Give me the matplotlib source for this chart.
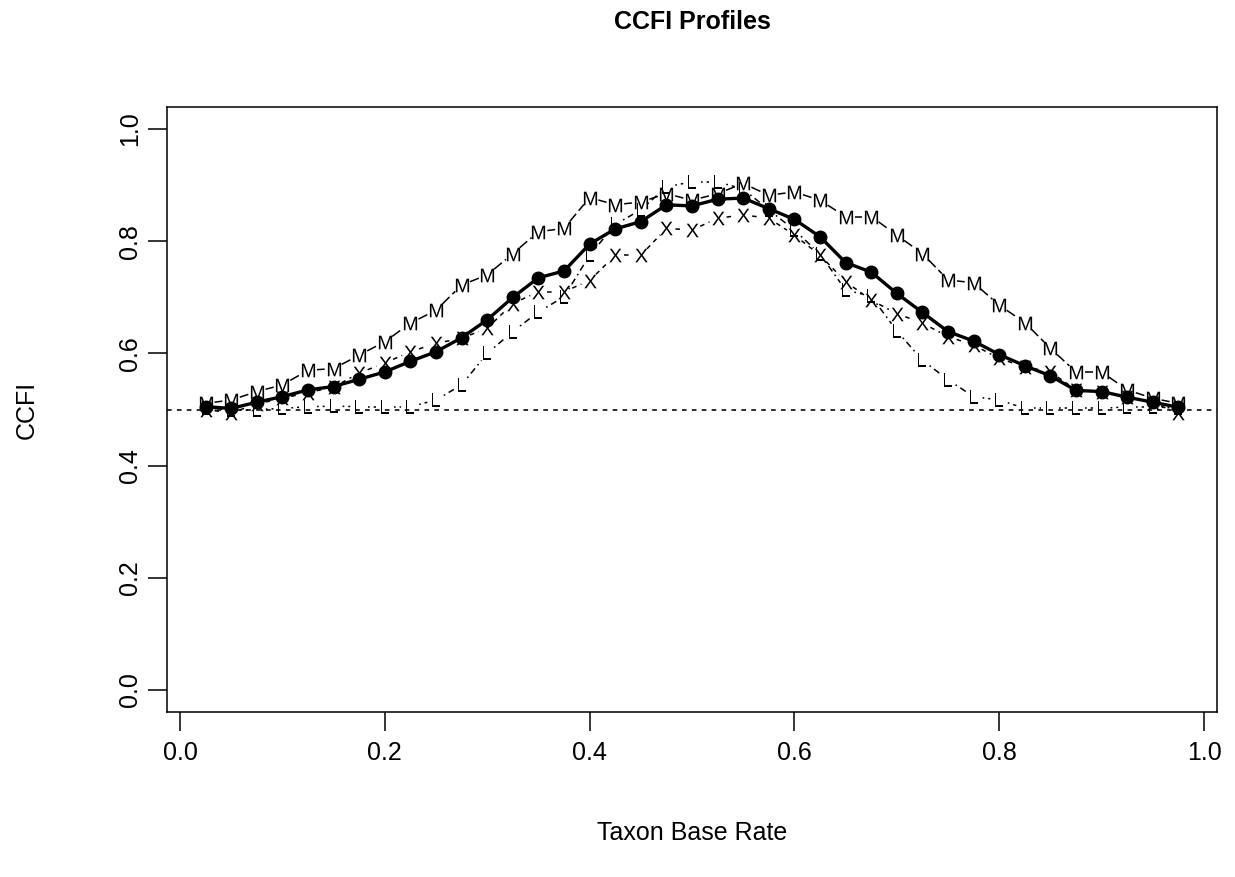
import numpy as np
import matplotlib
matplotlib.use("Agg")
import matplotlib.pyplot as plt

plt.rcParams['font.family'] = ['Liberation Sans', 'DejaVu Sans']
plt.rcParams['mathtext.fontset'] = 'custom'
plt.rcParams['mathtext.sf'] = 'Liberation Sans'

# taxon base rates on the x axis
base_rate = [0.025, 0.050, 0.075, 0.100, 0.125, 0.150, 0.175, 0.200, 0.225, 0.250,
             0.275, 0.300, 0.325, 0.350, 0.375, 0.400, 0.425, 0.450, 0.475, 0.500,
             0.525, 0.550, 0.575, 0.600, 0.625, 0.650, 0.675, 0.700, 0.725, 0.750,
             0.775, 0.800, 0.825, 0.850, 0.875, 0.900, 0.925, 0.950, 0.975]

# mean profile (thick line with dots)
ccfi_mean = [0.505, 0.502, 0.513, 0.523, 0.535, 0.541, 0.554, 0.567, 0.586, 0.603,
             0.628, 0.660, 0.700, 0.735, 0.747, 0.795, 0.822, 0.835, 0.865, 0.863,
             0.875, 0.877, 0.858, 0.839, 0.808, 0.762, 0.745, 0.707, 0.673, 0.639,
             0.622, 0.598, 0.578, 0.560, 0.534, 0.532, 0.522, 0.513, 0.504]

# profiles drawn with letters
ccfi_m = [0.511, 0.517, 0.532, 0.544, 0.570, 0.573, 0.597, 0.621, 0.654, 0.677,
          0.722, 0.740, 0.778, 0.817, 0.823, 0.878, 0.865, 0.870, 0.885, 0.873,
          0.885, 0.903, 0.882, 0.888, 0.873, 0.844, 0.844, 0.811, 0.778, 0.731,
          0.726, 0.686, 0.655, 0.609, 0.567, 0.567, 0.535, 0.520, 0.511]
ccfi_l = [0.502, 0.500, 0.500, 0.502, 0.505, 0.506, 0.505, 0.505, 0.505, 0.517,
          0.544, 0.600, 0.639, 0.674, 0.701, 0.775, 0.830, 0.856, 0.897, 0.906,
          0.906, 0.893, 0.856, 0.820, 0.777, 0.713, 0.702, 0.640, 0.588, 0.553,
          0.523, 0.517, 0.502, 0.502, 0.502, 0.502, 0.505, 0.505, 0.502]
ccfi_x = [0.500, 0.494, 0.510, 0.520, 0.530, 0.540, 0.565, 0.583, 0.603, 0.618,
          0.627, 0.645, 0.689, 0.710, 0.710, 0.730, 0.775, 0.775, 0.823, 0.820,
          0.841, 0.847, 0.841, 0.811, 0.775, 0.728, 0.695, 0.671, 0.654, 0.630,
          0.615, 0.591, 0.576, 0.567, 0.535, 0.532, 0.522, 0.512, 0.494]

ticks = [0.0, 0.2, 0.4, 0.6, 0.8, 1.0]
tick_labels = ['0.0', '0.2', '0.4', '0.6', '0.8', '1.0']


def gapped_line(ax, x, y, gap, **kw):
    # like R type="b": segments stop short of each point
    pts = ax.transData.transform(np.column_stack([x, y]))
    back = ax.transData.inverted()
    for p, q in zip(pts[:-1], pts[1:]):
        step = q - p
        length = np.hypot(*step)
        if length <= 2 * gap:
            continue
        unit = step / length
        seg = back.transform([p + unit * gap, q - unit * gap])
        ax.plot(seg[:, 0], seg[:, 1], color='black', **kw)


fig = plt.figure(figsize=(12.35, 8.77), dpi=100)
ax = fig.add_axes([0.135, 0.1877, 0.8507, 0.6907])
ax.set_xlim(-0.013, 1.013)
ax.set_ylim(-0.04, 1.04)

ax.axhline(0.5, color='black', lw=1.15, dashes=(2.9, 3.3), zorder=1)

ax.plot(base_rate, ccfi_mean, color='black', lw=2.4, marker='o', ms=9, zorder=3)

styles = [(ccfi_m, 'M', (6.5, 2.6)),
          (ccfi_l, 'L', (1.1, 2.6, 4.3, 2.6)),
          (ccfi_x, 'X', (3.0, 3.0))]
for vals, letter, dash in styles:
    gapped_line(ax, base_rate, vals, 9, lw=1.1, dashes=dash, zorder=2)
    ax.plot(base_rate, vals, ls='none', marker=r'$\mathsf{%s}$' % letter,
            ms=9.8, mfc='black', mec='black', mew=0, zorder=4)

ax.set_xticks(ticks)
ax.set_xticklabels(tick_labels)
ax.set_yticks(ticks)
ax.set_yticklabels(tick_labels)
ax.tick_params(direction='out', length=13.7, width=1.1, labelsize=18, color='black')
ax.tick_params(axis='x', pad=7.2)
ax.tick_params(axis='y', pad=3.9, labelrotation=90)
for lbl in ax.get_yticklabels():
    lbl.set_va('center')
for sp in ax.spines.values():
    sp.set_linewidth(1.1)

ax.set_xlabel('Taxon Base Rate', fontsize=18)
ax.xaxis.set_label_coords(0.5, -0.199)
ax.xaxis.label.set_va('center')
ax.set_ylabel('CCFI', fontsize=18)
ax.yaxis.set_label_coords(-0.133, 0.5)
ax.yaxis.label.set_va('center')
ax.set_title('CCFI Profiles', fontsize=18, fontweight='bold', y=1.140, pad=0, va='center')

fig.savefig('out.png', dpi=100)
